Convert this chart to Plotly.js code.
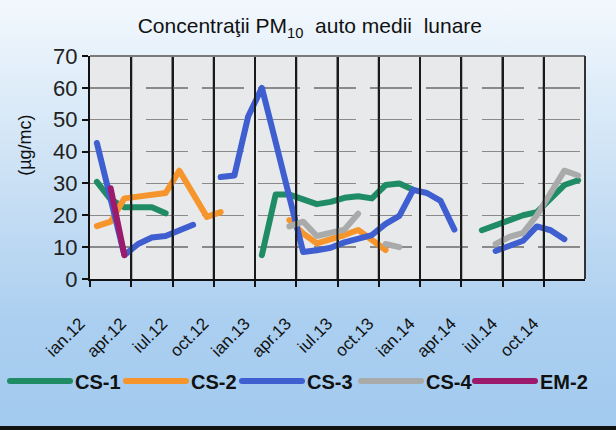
<!DOCTYPE html>
<html>
<head>
<meta charset="utf-8">
<script src="https://cdn.plot.ly/plotly-3.0.1.min.js"></script>
<style>
  html, body { margin: 0; padding: 0; }
  body { width: 616px; height: 430px; overflow: hidden; }
  #wrap { position: relative; width: 616px; height: 430px;
    background: linear-gradient(to bottom, #f3f8fd 0%, #dfedf9 20%, #c3dcf3 50%, #abcff0 75%, #a2caee 100%); }
  #bar { position: absolute; left: 0; bottom: 0; width: 616px; height: 4px; background: #111; }
  #chart { position: absolute; left: 0; top: 0; width: 616px; height: 430px; }
  .js-line { stroke-linecap: round; stroke-linejoin: round; }
</style>
</head>
<body>
<div id="wrap">
  <div id="chart"></div>
  <div id="bar"></div>
</div>
<script>
// Months jan 2012 .. dec 2014 (Romanian abbreviations)
const monthNames = ['ian','feb','mar','apr','mai','iun','iul','aug','sep','oct','noi','dec'];
const years = ['12','13','14'];
const months = [];
years.forEach(y => monthNames.forEach(m => months.push(m + '.' + y)));

const tickLabels = ['ian.12','apr.12','iul.12','oct.12','ian.13','apr.13','iul.13','oct.13','ian.14','apr.14','iul.14','oct.14'];

const cs1 = [30.5, 25, 22.5, 22.7, 22.5, 20.6, null, null, null, null, null, null,
             7.5, 26.5, 26.5, 25, 23.5, 24.2, 25.5, 26, 25.3, 29.5, 30, 28,
             null, null, null, null, 15.3, 16.8, 18.3, 20, 21, 25, 29.5, 31];
const cs2 = [16.6, 18, 25.3, 25.8, 26.2, 27, 34, 26.8, 19.5, 21, null, null,
             null, null, 18.5, 14.3, 11.2, 12.3, 13.8, 15.4, 12, 9.1,
             null, null, null, null, null, null, null, null, null, null, null, null, null, null];
const cs3 = [42.7, 25, 7.5, 11, 13, 13.5, 15.5, 17, null, 32, 32.5, 51,
             60, 43, 26, 8.5, 9, 9.8, 11.5, 12.8, 13.8, 17.3, 19.8, 28,
             27, 24.5, 15.5, null, null, 8.8, 10.5, 12, 16.5, 15.3, 12.5, null];
const cs4 = [null, null, null, null, null, null, null, null, null, null, null, null,
             null, null, 16.5, 18, 13.5, 14.3, 15.5, 20.5, null, 11, 10, null,
             null, null, null, null, null, 11, 13.2, 14.5, 20, 27, 34, 32.5];
const em2 = [null, 28.5, 7.5, null, null, null, null, null, null, null, null, null,
             null, null, null, null, null, null, null, null, null, null, null, null,
             null, null, null, null, null, null, null, null, null, null, null, null];

const seriesNames = ['CS-1','CS-2','CS-3','CS-4','EM-2'];
const seriesData = [cs1, cs2, cs3, cs4, em2];
const seriesColors = ['#1f8c66', '#f5952c', '#3f5ed0', '#a9abab', '#9c1a6c'];

// month position index along the axis, derived from the category list
const monthIndex = months.map((m, i) => i);
// ticks / grid lines sit on the boundary before each labelled month
const tickBoundary = tickLabels.map(t => months.indexOf(t) - 0.5);
const xRange = [-0.5, months.length - 0.5];

const legendIds = ['legend', 'legend2', 'legend3', 'legend4', 'legend5'];
const traces = seriesData.map((d, i) => ({
  type: 'scatter', mode: 'lines', x: monthIndex, y: d, name: seriesNames[i],
  legend: legendIds[i],
  line: { color: seriesColors[i], width: 6 }, connectgaps: false, hoverinfo: 'skip'
}));

const font = 'Liberation Sans, Arial, sans-serif';
const legendX = [5, 121, 237, 356, 470];

// dark vertical grid lines on the quarter boundaries
const vGrid = tickBoundary.slice(1).map(b => {
  const p = (b - xRange[0]) / (xRange[1] - xRange[0]);
  return { type: 'line', xref: 'paper', yref: 'paper', x0: p, x1: p, y0: 0, y1: 1,
    line: { color: '#1a1a1a', width: 2 } };
});

const layout = {
  width: 616, height: 430,
  paper_bgcolor: 'rgba(0,0,0,0)', plot_bgcolor: '#e7e9eb',
  margin: { l: 90, r: 31, t: 56, b: 151, autoexpand: false },
  title: { text: 'Concentraţii PM<sub>10</sub>  auto medii  lunare',
    font: { family: font, size: 21, color: '#111' },
    x: 0.503, xref: 'container', y: 1 - 26/430, yref: 'container', yanchor: 'middle' },
  showlegend: true,
  xaxis: { range: xRange, tickmode: 'array', tickvals: tickBoundary, ticktext: tickLabels,
    ticks: 'outside', ticklen: 6, tickwidth: 2, tickcolor: '#111',
    showgrid: true, gridcolor: '#1a1a1a', gridwidth: 2,
    showline: true, linecolor: '#111', linewidth: 2, zeroline: false,
    tickangle: -45, tickfont: { family: font, size: 17, color: '#111' },
    ticklabelstandoff: 20, ticklabelshift: -10, fixedrange: true },
  yaxis: { range: [0, 70], dtick: 10, tick0: 0,
    ticks: 'outside', ticklen: 6, tickwidth: 2, tickcolor: '#111',
    showline: true, linecolor: '#111', linewidth: 2,
    showgrid: true, gridcolor: '#8a8a8a', gridwidth: 1.5, griddash: '42px,14px',
    zeroline: false, tickfont: { family: font, size: 22, color: '#222' }, fixedrange: true },
  annotations: [{ text: '(µg/mc)', xref: 'paper', yref: 'paper', x: -0.13, y: 0.60,
    xanchor: 'center', yanchor: 'middle', textangle: -90, showarrow: false,
    font: { family: font, size: 18, color: '#111' } }],
  shapes: vGrid.concat([
    { type: 'line', xref: 'paper', yref: 'paper', x0: 0, x1: 1, y0: 1, y1: 1, line: { color: '#7a7a7a', width: 2 } },
    { type: 'line', xref: 'paper', yref: 'paper', x0: 1, x1: 1, y0: 0, y1: 1, line: { color: '#333', width: 2 } }
  ])
};
legendIds.forEach((id, i) => {
  layout[id] = { orientation: 'h', x: legendX[i] / 616, xref: 'container', y: 1 - 381/430, yref: 'container',
    yanchor: 'middle', xanchor: 'left', bgcolor: 'rgba(0,0,0,0)',
    font: { family: font, size: 20, color: '#111', weight: 'bold' }, itemwidth: 60 };
});

Plotly.newPlot('chart', traces, layout, { staticPlot: true, displayModeBar: false });
</script>
</body>
</html>
